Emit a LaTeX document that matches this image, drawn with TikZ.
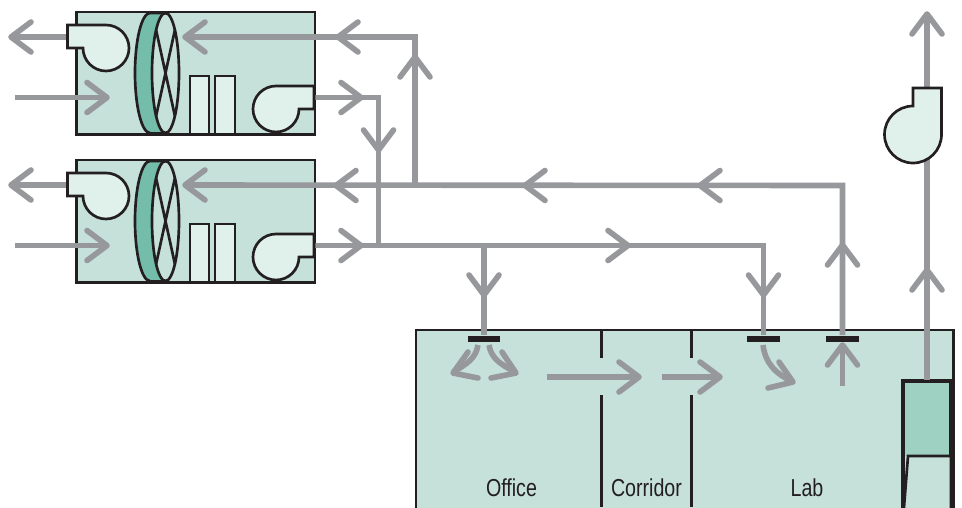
\documentclass[tikz,border=0pt]{standalone}
\usepackage{fontspec}
\setmainfont[FakeStretch=0.8]{Liberation Sans}
\definecolor{roomfill}{HTML}{C6E0DA}
\definecolor{fanfill}{HTML}{E0F0EB}
\definecolor{wheelfill}{HTML}{74BDAA}
\definecolor{hoodfill}{HTML}{9ED1C2}
\definecolor{ductgrey}{HTML}{97989C}
\definecolor{wallblack}{HTML}{231F20}
\tikzset{
  wall/.style={draw=wallblack, line width=2pt},
  duct/.style={draw=ductgrey, line width=4.2pt},
  fanbody/.style={wall, fill=fanfill},
  barb/.style={draw=ductgrey, line width=4.2pt, line cap=round, line join=round},
  grille/.style={fill=wallblack, draw=none, minimum width=24.5pt, minimum height=4.5pt, inner sep=0pt},
  roomlabel/.style={font=\fontsize{18.4}{20}\selectfont, text=wallblack, inner sep=0pt},
  chev/.pic={\draw[barb] (-20,-15) -- (0,0) -- (-20,15);},
  ahu/.pic={
    \node[wall, fill=roomfill, outer sep=0pt, minimum width=178.9pt, minimum height=92pt, inner sep=0pt, anchor=north west] (-box) at (76.5,12) {};
    \coordinate (-exhaust) at (72,37);
    \coordinate (-exhausttip) at (12,37);
    \coordinate (-intake) at (15,97.5);
    \coordinate (-intaketip) at (106,97.5);
    \coordinate (-returntip) at (185,37);
    \coordinate (-supply) at (310,97.5);
    % wheel
    \fill[wheelfill] (150,13) -- (165.5,13) arc[start angle=-90, end angle=-270, x radius=13.5, y radius=60] -- (150,133) arc[start angle=90, end angle=270, x radius=15, y radius=60] -- cycle;
    \draw[wall, fill=roomfill] (165.5,73) ellipse[x radius=13.5, y radius=60];
    \draw[wall] (150,133) arc[start angle=90, end angle=270, x radius=15, y radius=60] -- (165.5,13);
    \draw[wall] (150,133) -- (165.5,133);
    \draw[wall] (156.1,30) -- (174.9,116) (174.9,30) -- (156.1,116);
    % coils
    \draw[wall, fill=fanfill] (190,76) rectangle (209,134);
    \draw[wall, fill=fanfill] (215,76) rectangle (235,134);
  },
  ahufans/.pic={
    \draw[fanbody] (67.5,25) -- (106,25) arc[start angle=-90, end angle=180, radius=23] -- (67.5,48) -- cycle;
    \draw[fanbody] (314,86) -- (276,86) arc[start angle=-90, end angle=-360, radius=23] -- (314,109) -- cycle;
  }
}
\begin{document}
\begin{tikzpicture}[x=0.75pt, y=-0.75pt]
\useasboundingbox (0,0) rectangle (962,507);

% room
\begin{scope}
\clip (0,0) rectangle (962,507);
\node[wall, line width=2.2pt, fill=roomfill, outer sep=0pt, minimum width=402.8pt, minimum height=150pt, inner sep=0pt, anchor=north west] (room) at (416,330) {};
\draw[wall] (601.5,330) -- (601.5,358) (601.5,395) -- (601.5,507);
\draw[wall] (691.5,330) -- (691.5,358) (691.5,395) -- (691.5,507);
% hood
\fill[hoodfill] (903,381) rectangle (951,456);
\draw[wall, fill=roomfill] (908,456) -- (951,456) -- (951,520) -- (903,520) -- cycle;
\draw[wall, line width=2.4pt] (903,520) -- (903,381) -- (951,381) -- (951,456);
\end{scope}

\node[roomlabel] (office) at (511.5,488) {Office};
\node[roomlabel] (corridor) at (646.5,488) {Corridor};
\node[roomlabel] (lab) at (807,488) {Lab};

\node[grille] (officesupply) at (484,338.5) {};
\node[grille] (labsupply) at (763.5,338.5) {};
\node[grille] (labreturn) at (842.5,338.5) {};
\coordinate (hoodtop) at (927,380);

% air handlers
\pic (upper) at (0,0) {ahu};
\pic (lower) at (0,148) {ahu};

\coordinate (stacktop) at (927,16);
\coordinate (returnriser) at (415,37);
\coordinate (returnjoin) at (415,185.5);
\coordinate (returncorner) at (842.5,185.5);
\coordinate (supplycorner) at (378.5,97.5);
\coordinate (supplyjoin) at (378.5,245.5);
\coordinate (labcorner) at (763.5,245.5);
\coordinate (officetee) at (484,245.5);

% ducts
\draw[duct] (upper-exhaust) -- (upper-exhausttip);
\draw[duct] (lower-exhaust) -- (lower-exhausttip);
\draw[duct] (upper-intake) -- (upper-intaketip);
\draw[duct] (lower-intake) -- (lower-intaketip);
\draw[duct] (upper-supply) -- (supplycorner) -- (supplyjoin);
\draw[duct] (lower-supply) -- (labcorner) -- (labsupply.north);
\draw[duct] (officetee) -- (officesupply.north);
\draw[duct] (labreturn.north) -- (returncorner) -- (lower-returntip);
\draw[duct] (returnjoin) -- (returnriser) -- (upper-returntip);
\draw[duct] (hoodtop) -- (stacktop);

% fans go over the ducts
\pic at (0,0) {ahufans};
\pic at (0,148) {ahufans};
\draw[fanbody] (913,88) -- (941.5,88) -- (941.5,134.5) arc[start angle=0, end angle=270, radius=28.5] -- (913,106) -- cycle;

% duct arrows
\foreach \cx/\cy/\r in {11/37/180, 107/97.5/0, 185/37/180, 338/37/180, 415/57/90,
  361/97.5/0, 378.5/150/-90, 11/185/180, 107/245.5/0, 185/185/180, 336/185.5/180,
  361/245.5/0, 525/185.5/180, 700/185.5/180, 628/245.5/0, 484/295/-90,
  763.5/295/-90, 842.5/245/90, 927/14/90, 927/270/90, 842.5/345/90,
  639/377/0, 720/377/0}
  \pic[rotate=\r] at (\cx,\cy) {chev};

% air in the rooms
\draw[barb, line cap=butt] (842.5,386) -- (842.5,347);
\draw[barb, line cap=butt] (547,377) -- (637,377);
\draw[barb, line cap=butt] (662,377) -- (718,377);
\draw[barb, line cap=butt] (478,345) .. controls (476,358) and (467,364) .. (453,372);
\draw[barb] (468,352) -- (453,373) -- (478,378);
\draw[barb, line cap=butt] (489,345) .. controls (491,358) and (500,364) .. (515,372);
\draw[barb] (502,352) -- (516,373) -- (491,378);
\draw[barb, line cap=butt] (763,345) .. controls (765,362) and (775,374) .. (792,381);
\draw[barb] (779,362) -- (793,382) -- (768,388);
\end{tikzpicture}
\end{document}
